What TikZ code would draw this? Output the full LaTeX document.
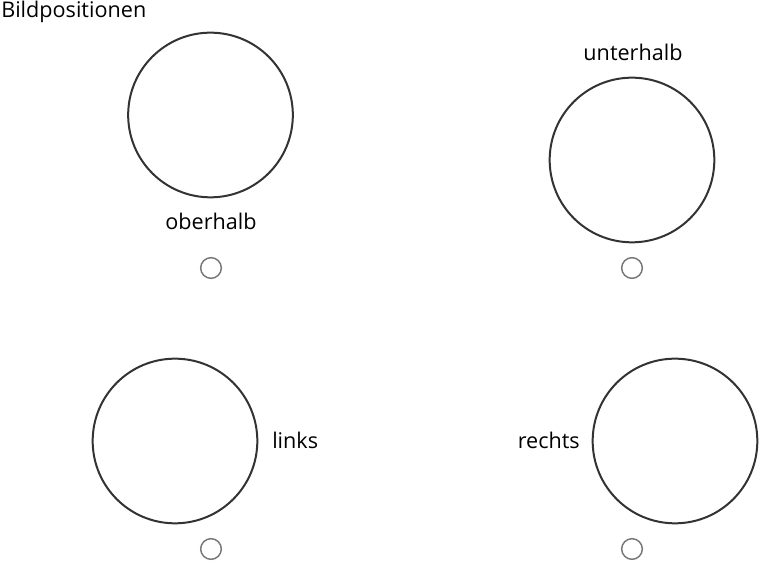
\documentclass[tikz,border=0pt]{standalone}
\usepackage{fontspec}
\setmainfont{Open Sans}
\usepackage{tikz}
\usetikzlibrary{positioning,calc}

\definecolor{rimgray}{HTML}{333333}
\definecolor{radiogray}{HTML}{777777}

\tikzset{
  picbox/.style={circle,draw=rimgray,line width=1.5pt,minimum size=123.5pt,inner sep=0pt},
  radio/.style={circle,draw=radiogray,line width=1.1pt,minimum size=15.5pt,inner sep=0pt},
  lbl/.style={font=\fontsize{16.2}{18}\selectfont,inner sep=0pt}
}

\begin{document}
\begin{tikzpicture}[x=0.75pt,y=-0.75pt]
      \useasboundingbox (0,0) rectangle (769,573);
      \node[lbl,anchor=base west] (title) at (1,18) {Bildpositionen};
      % oberhalb
      \node[picbox] (picA) at (210.5,115) {};
      \node[lbl,anchor=base] (labA) at (211,230) {oberhalb};
      \node[radio] (radA) at (211,268) {};
      % unterhalb
      \node[picbox] (picB) at (632,160) {};
      \node[lbl,anchor=base] (labB) at (633,61) {unterhalb};
      \node[radio] (radB) at (632,268) {};
      % links
      \node[picbox] (picC) at (175,441) {};
      \node[lbl,anchor=base west] (labC) at (272,449) {links};
      \node[radio] (radC) at (211,549) {};
      % rechts
      \node[picbox] (picD) at (675,441) {};
      \node[lbl,anchor=base east] (labD) at (580,449) {rechts};
      \node[radio] (radD) at (632,549) {};
\end{tikzpicture}
\end{document}
